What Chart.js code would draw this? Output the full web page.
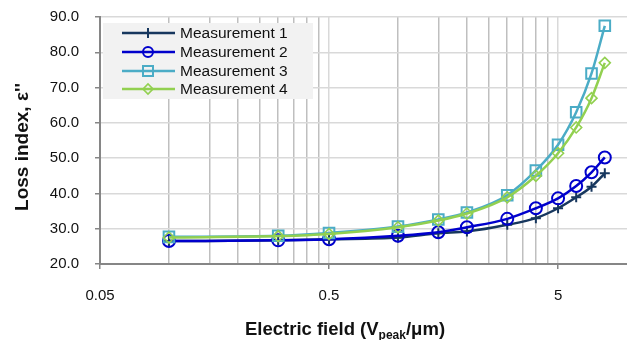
<!DOCTYPE html>
<html>
<head>
<meta charset="utf-8">
<script src="https://cdn.jsdelivr.net/npm/chart.js@4.4.1/dist/chart.umd.min.js"></script>
<style>
  html, body { margin: 0; padding: 0; background: #ffffff; }
  #wrap { width: 627px; height: 340px; position: relative; }
</style>
</head>
<body>
<div id="wrap"><canvas id="c" width="627" height="340"></canvas></div>
<script>
// ---- Data ----
const fieldValues = [0.1, 0.3, 0.5, 1.0, 1.5, 2.0, 3.0, 4.0, 5.0, 6.0, 7.0, 8.0];
const measurement1 = [26.5, 26.7, 27.0, 27.5, 28.7, 29.2, 31.1, 33.0, 35.8, 38.9, 41.9, 45.7];
const measurement2 = [26.5, 26.7, 27.0, 28.0, 29.0, 30.4, 32.8, 35.8, 38.6, 42.1, 46.0, 50.2];
const measurement3 = [27.7, 28.0, 28.8, 30.6, 32.6, 34.6, 39.5, 46.5, 53.8, 63.0, 74.0, 87.5];
const measurement4 = [27.5, 27.9, 28.5, 30.4, 32.3, 34.3, 38.9, 45.0, 51.4, 58.7, 67.0, 77.0];
const seriesNames = ['Measurement 1', 'Measurement 2', 'Measurement 3', 'Measurement 4'];
const xTickLabels = ['0.05', '0.5', '5'];
const xGridValues = [0.05, 0.1, 0.15, 0.2, 0.25, 0.3, 0.35, 0.4, 0.45, 0.5,
                     1, 1.5, 2, 2.5, 3, 3.5, 4, 4.5, 5];
const xMajorValues = [0.05, 0.5, 5];
const yMin = 20, yMax = 90, yStep = 10;
const xMin = 0.05, xMax = 10;

const colors = ['#17375E', '#0000CC', '#4BACC6', '#92D050'];
const pointStyles = ['cross', 'circle', 'rect', 'rectRot'];
const pointRadii = [5, 6, 7.5, 5.5];
const pointBorders = [2, 2, 2, 1.6];

const FONT = "'Liberation Sans', Arial, sans-serif";

function toPoints(ys) { return fieldValues.map((x, i) => ({ x: x, y: ys[i] })); }
const allSeries = [measurement1, measurement2, measurement3, measurement4];

const datasets = allSeries.map((ys, i) => ({
  label: seriesNames[i],
  data: toPoints(ys),
  borderColor: colors[i],
  backgroundColor: 'rgba(0,0,0,0)',
  borderWidth: 2.5,
  pointStyle: pointStyles[i],
  pointRadius: pointRadii[i],
  pointBorderWidth: pointBorders[i],
  pointBorderColor: colors[i],
  pointBackgroundColor: 'rgba(0,0,0,0)',
  cubicInterpolationMode: 'monotone',
  clip: false,
  order: 4 - i
}));

function isMajor(v) { return xMajorValues.some(m => Math.abs(m - v) < 1e-9); }

const overlayPlugin = {
  id: 'overlay',
  afterDraw(chart) {
    const ctx = chart.ctx;
    ctx.save();
    // Legend box
    ctx.fillStyle = '#f2f2f2';
    ctx.fillRect(103, 23, 210, 76);
    const rows = [33, 52, 71, 89];
    for (let i = 0; i < 4; i++) {
      const y = rows[i];
      ctx.strokeStyle = colors[i];
      ctx.lineWidth = 2.5;
      ctx.beginPath(); ctx.moveTo(122, y); ctx.lineTo(175, y); ctx.stroke();
      const cx = 148;
      ctx.lineWidth = pointBorders[i];
      ctx.beginPath();
      if (pointStyles[i] === 'cross') {
        ctx.moveTo(cx - 5, y); ctx.lineTo(cx + 5, y);
        ctx.moveTo(cx, y - 5); ctx.lineTo(cx, y + 5);
      } else if (pointStyles[i] === 'circle') {
        ctx.arc(cx, y, 5, 0, Math.PI * 2);
      } else if (pointStyles[i] === 'rect') {
        ctx.rect(cx - 5, y - 5, 10, 10);
      } else {
        ctx.moveTo(cx - 5, y); ctx.lineTo(cx, y - 5); ctx.lineTo(cx + 5, y); ctx.lineTo(cx, y + 5); ctx.closePath();
      }
      ctx.stroke();
      ctx.fillStyle = '#111111';
      ctx.font = '15.5px ' + FONT;
      ctx.textAlign = 'left';
      ctx.textBaseline = 'middle';
      ctx.fillText(seriesNames[i], 180, y + 1);
    }
    // Y axis title
    ctx.save();
    ctx.translate(23, 147);
    ctx.rotate(-Math.PI / 2);
    ctx.font = 'bold 19px ' + FONT;
    ctx.fillStyle = '#111111';
    ctx.textAlign = 'center';
    ctx.textBaseline = 'middle';
    ctx.fillText("Loss index, ε''", 0, 0);
    ctx.restore();
    // X axis title with subscript
    const p1 = 'Electric field (V', sub = 'peak', p2 = '/μm)';
    ctx.font = 'bold 18.5px ' + FONT;
    const w1 = ctx.measureText(p1).width, w3 = ctx.measureText(p2).width;
    ctx.font = 'bold 12px ' + FONT;
    const w2 = ctx.measureText(sub).width;
    let x = 345 - (w1 + w2 + w3) / 2;
    const base = 335;
    ctx.fillStyle = '#111111';
    ctx.textAlign = 'left';
    ctx.textBaseline = 'alphabetic';
    ctx.font = 'bold 18.5px ' + FONT;
    ctx.fillText(p1, x, base); x += w1;
    ctx.font = 'bold 12px ' + FONT;
    ctx.fillText(sub, x, base + 4); x += w2;
    ctx.font = 'bold 18.5px ' + FONT;
    ctx.fillText(p2, x, base);
    ctx.restore();
  }
};

new Chart(document.getElementById('c'), {
  type: 'line',
  data: { datasets: datasets },
  options: {
    responsive: false,
    animation: false,
    layout: { autoPadding: false, padding: { top: 17, right: 0, left: 0, bottom: 0 } },
    plugins: { legend: { display: false }, tooltip: { enabled: false } },
    scales: {
      x: {
        type: 'logarithmic',
        min: xMin,
        max: xMax,
        afterBuildTicks(scale) {
          scale.ticks = xGridValues.map(v => ({ value: v }));
        },
        afterFit(scale) { scale.height = 76; scale.paddingLeft = 0; scale.paddingRight = 0; },
        ticks: {
          autoSkip: false,
          maxRotation: 0,
          padding: 18,
          color: '#111111',
          font: { family: FONT, size: 15 },
          callback(val) {
            for (const l of xTickLabels) { if (Math.abs(parseFloat(l) - val) < 1e-9) return l; }
            return '';
          }
        },
        grid: {
          color: ctx => (ctx.tick && isMajor(ctx.tick.value)) ? '#d9d9d9' : '#bfbfbf',
          lineWidth: 1.5,
          tickLength: 5,
          tickColor: ctx => (ctx.tick && isMajor(ctx.tick.value)) ? '#868686' : 'rgba(0,0,0,0)',
          tickWidth: 1.5
        },
        border: { color: '#868686', width: 2 }
      },
      y: {
        type: 'linear',
        min: yMin,
        max: yMax,
        afterFit(scale) { scale.width = 100; scale.paddingTop = 0; scale.paddingBottom = 0; },
        ticks: {
          stepSize: yStep,
          padding: 16,
          color: '#111111',
          font: { family: FONT, size: 15 },
          callback: v => Number(v).toFixed(1)
        },
        grid: {
          color: '#d9d9d9',
          lineWidth: 1.5,
          tickLength: 5,
          tickColor: '#868686',
          tickWidth: 1.5
        },
        border: { color: '#868686', width: 2 }
      }
    }
  },
  plugins: [overlayPlugin]
});
</script>
</body>
</html>
